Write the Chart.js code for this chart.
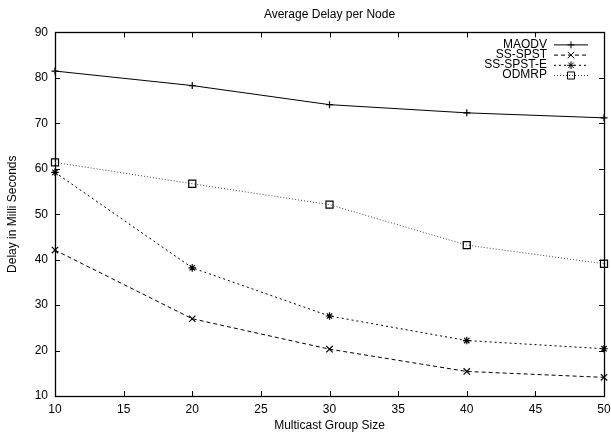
<!DOCTYPE html>
<html>
<head>
<meta charset="utf-8">
<script src="https://cdn.jsdelivr.net/npm/chart.js@4"></script>
<style>
  html, body { margin: 0; padding: 0; background: #fff; }
  #wrap { width: 611px; height: 437px; }
</style>
</head>
<body>
<div id="wrap"><canvas id="delay_chart" width="611" height="437"></canvas></div>
<script>
var groupSizes = [10, 20, 30, 40, 50];
var maodv = [81.5, 78.3, 74.1, 72.3, 71.2];
var ssSpst = [42.1, 27.0, 20.3, 15.4, 14.1];
var ssSpstE = [59.2, 38.2, 27.6, 22.2, 20.4];
var odmrp = [61.4, 56.7, 52.1, 43.2, 39.1];
var xTicks = [10, 15, 20, 25, 30, 35, 40, 45, 50];
var yTicks = [10, 20, 30, 40, 50, 60, 70, 80, 90];

var FONT = 'Liberation Sans';

function pairs(values) {
    return groupSizes.map(function (g, i) { return { x: g, y: values[i] }; });
}

// gnuplot style frame with inward ticks on all four sides
var framePlugin = {
    id: 'frame',
    beforeDatasetsDraw: function (chart) {
        var ctx = chart.ctx, a = chart.chartArea;
        var xs = chart.scales.x, ys = chart.scales.y;
        ctx.save();
        ctx.strokeStyle = '#000';
        ctx.lineWidth = 1;
        ctx.beginPath();
        xTicks.forEach(function (t) {
            var px = Math.round(xs.getPixelForValue(t)) + 0.5;
            ctx.moveTo(px, a.bottom); ctx.lineTo(px, a.bottom - 5);
            ctx.moveTo(px, a.top); ctx.lineTo(px, a.top + 5);
        });
        yTicks.forEach(function (t) {
            var py = Math.round(ys.getPixelForValue(t)) + 0.5;
            ctx.moveTo(a.left, py); ctx.lineTo(a.left + 5, py);
            ctx.moveTo(a.right, py); ctx.lineTo(a.right - 5, py);
        });
        ctx.stroke();
        ctx.lineWidth = 1.3;
        ctx.strokeRect(Math.round(a.left) + 0.5, Math.round(a.top) + 0.5,
            Math.round(a.right - a.left), Math.round(a.bottom - a.top));
        ctx.restore();
    }
};

// legend: label right aligned, line sample with marker to the right
var keyPlugin = {
    id: 'key',
    afterDatasetsDraw: function (chart) {
        var ctx = chart.ctx, a = chart.chartArea;
        ctx.save();
        ctx.font = '12px "' + FONT + '"';
        ctx.textAlign = 'right';
        ctx.textBaseline = 'middle';
        chart.data.datasets.forEach(function (ds, i) {
            var y = a.top + 12 + i * 10.2;
            ctx.fillStyle = '#000';
            ctx.fillText(ds.label, a.right - 57, y);
            ctx.strokeStyle = ds.borderColor;
            ctx.lineWidth = ds.borderWidth;
            ctx.setLineDash(ds.borderDash || []);
            ctx.beginPath();
            ctx.moveTo(a.right - 50, y + 0.5);
            ctx.lineTo(a.right - 16, y + 0.5);
            ctx.stroke();
            ctx.setLineDash([]);
            ctx.strokeStyle = '#000';
            ctx.fillStyle = ds.pointBackgroundColor;
            Chart.helpers.drawPoint(ctx, {
                pointStyle: ds.pointStyle,
                radius: ds.pointRadius,
                borderWidth: ds.pointBorderWidth,
                rotation: 0
            }, a.right - 33, y + 0.5);
        });
        ctx.restore();
    }
};

function series(label, values, dash, color, style, radius) {
    return {
        label: label,
        data: pairs(values),
        borderColor: color,
        borderWidth: 1,
        borderDash: dash,
        pointStyle: style,
        pointRadius: radius,
        pointBorderColor: '#000',
        pointBackgroundColor: style === 'rect' ? 'rgba(255,255,255,0)' : '#000',
        pointBorderWidth: 1.2,
        tension: 0,
        fill: false,
        clip: false
    };
}

var ctx = document.getElementById('delay_chart').getContext('2d');
var delayChart = new Chart(ctx, {
    type: 'line',
    data: {
        datasets: [
            series('MAODV', maodv, [], '#000', 'cross', 3.5),
            series('SS-SPST', ssSpst, [4, 3], '#000', 'crossRot', 4.5),
            series('SS-SPST-E', ssSpstE, [2, 3], '#000', 'star', 3.8),
            series('ODMRP', odmrp, [1, 2], '#444', 'rect', 5)
        ]
    },
    options: {
        responsive: false,
        animation: false,
        layout: { padding: 0 },
        plugins: {
            legend: { display: false },
            tooltip: { enabled: false },
            title: {
                display: true,
                text: 'Average Delay per Node',
                fullSize: false,
                color: '#000',
                font: { family: FONT, size: 12, weight: 'normal' },
                padding: { top: 7, bottom: 11 }
            }
        },
        scales: {
            x: {
                type: 'linear',
                min: 10,
                max: 50,
                grid: { display: false, drawTicks: false },
                border: { display: false },
                afterFit: function (scale) {
                    scale.height = 41;
                    scale.paddingLeft = 0;
                    scale.paddingRight = 7;
                },
                afterBuildTicks: function (scale) {
                    scale.ticks = xTicks.map(function (v) { return { value: v }; });
                },
                ticks: {
                    color: '#000',
                    padding: 6,
                    maxRotation: 0,
                    font: { family: FONT, size: 12 }
                },
                title: {
                    display: true,
                    text: 'Multicast Group Size',
                    color: '#000',
                    font: { family: FONT, size: 12 },
                    padding: { top: 4, bottom: 4 }
                }
            },
            y: {
                min: 10,
                max: 90,
                grid: { display: false, drawTicks: false },
                border: { display: false },
                afterFit: function (scale) {
                    scale.width = 55;
                    scale.paddingTop = 0;
                    scale.paddingBottom = 0;
                },
                afterBuildTicks: function (scale) {
                    scale.ticks = yTicks.map(function (v) { return { value: v }; });
                },
                ticks: {
                    color: '#000',
                    padding: 7,
                    font: { family: FONT, size: 12 }
                },
                title: {
                    display: true,
                    text: 'Delay in Milli Seconds',
                    color: '#000',
                    font: { family: FONT, size: 12 },
                    padding: { top: 5, bottom: 4 }
                }
            }
        }
    },
    plugins: [framePlugin, keyPlugin]
});
</script>
</body>
</html>
